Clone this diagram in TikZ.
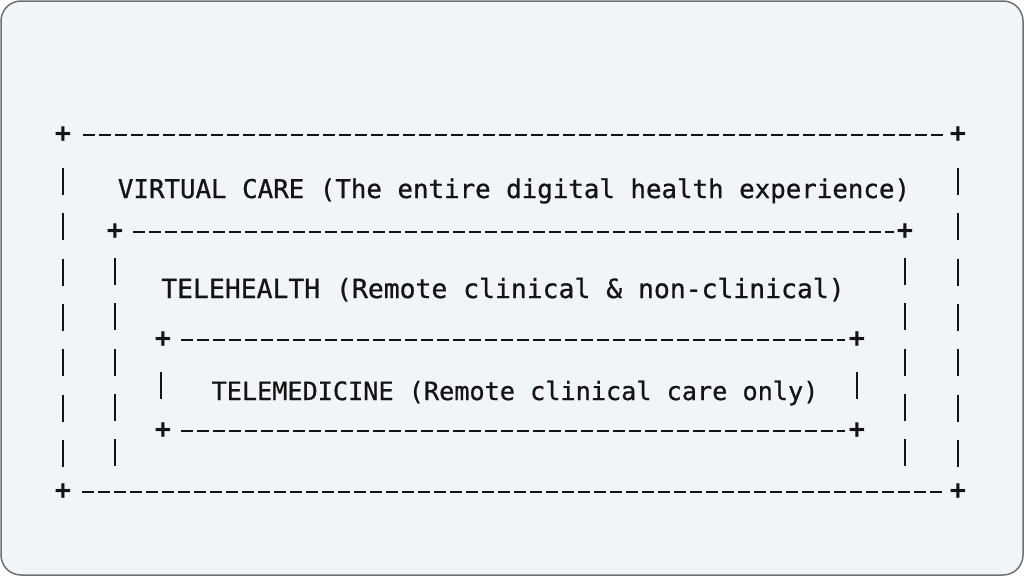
\documentclass[tikz,border=0pt]{standalone}
\usepackage{fontspec}
\newfontfamily\monofam[FakeBold=0.8]{DejaVu Sans Mono}
\newfontfamily\monobold{DejaVu Sans Mono Bold}
\definecolor{bg}{RGB}{241,244,248}
\definecolor{frame}{RGB}{110,112,116}
\definecolor{ink}{RGB}{20,20,20}
\tikzset{
  lbl/.style={font=\monofam\fontsize{25.8}{30}\selectfont, text=ink, inner sep=0pt, anchor=base},
  corner/.style={font=\monobold\fontsize{27}{30}\selectfont, text=ink, inner sep=0pt},
  hrule/.style={draw=ink, line width=2.7pt, dash pattern=on 11.5pt off 4.5pt},
  vrule/.style={draw=ink, line width=2.7pt, dash pattern=on 27pt off 18.3pt}
}
\begin{document}
\begin{tikzpicture}[x=1pt,y=-1pt]
\useasboundingbox (0,0) rectangle (1024,576);
\fill[white] (0,0) rectangle (1024,576);
\draw[fill=bg, draw=frame, line width=1.5pt, rounded corners=20pt] (1,1) rectangle (1023,575);

% corners
\node[corner] (otl) at (63,135) {+};
\node[corner] (otr) at (958,135) {+};
\node[corner] (obl) at (63,492) {+};
\node[corner] (obr) at (958,492) {+};
\node[corner] (mtl) at (115,232) {+};
\node[corner] (mtr) at (905,232) {+};
\node[corner] (itl) at (163,340) {+};
\node[corner] (itr) at (857,340) {+};
\node[corner] (ibl) at (163,431) {+};
\node[corner] (ibr) at (857,431) {+};

% horizontal rules
\draw[hrule] ([xshift=20pt]otl.center) -- ([xshift=-13pt]otr.center);
\draw[hrule] ([xshift=19pt]obl.center) -- ([xshift=-14pt]obr.center);
\draw[hrule] ([xshift=18pt]mtl.center) -- ([xshift=-11pt]mtr.center);
\draw[hrule] ([xshift=18pt]itl.center) -- ([xshift=-12pt]itr.center);
\draw[hrule] ([xshift=18pt]ibl.center) -- ([xshift=-12pt]ibr.center);

% vertical rules
\coordinate (ol1) at (63,168);  \coordinate (ol2) at (63,467);
\coordinate (or1) at (958,168); \coordinate (or2) at (958,467);
\coordinate (ml1) at (115,258); \coordinate (ml2) at (115,467);
\coordinate (mr1) at (905,258); \coordinate (mr2) at (905,467);
\coordinate (il1) at (161,372); \coordinate (il2) at (161,399);
\coordinate (ir1) at (857,372); \coordinate (ir2) at (857,399);
\draw[vrule] (ol1) -- (ol2);
\draw[vrule] (or1) -- (or2);
\draw[vrule] (ml1) -- (ml2);
\draw[vrule] (mr1) -- (mr2);
\draw[vrule] (il1) -- (il2);
\draw[vrule] (ir1) -- (ir2);

% labels
\node[lbl] (vc) at (514,198) {VIRTUAL CARE (The entire digital health experience)};
\node[lbl, font=\monofam\fontsize{26.4}{30}\selectfont] (th) at (503,298) {TELEHEALTH (Remote clinical \& non-clinical)};
\node[lbl, font=\monofam\fontsize{25.2}{30}\selectfont] (tm) at (515,400) {TELEMEDICINE (Remote clinical care only)};
\end{tikzpicture}
\end{document}
